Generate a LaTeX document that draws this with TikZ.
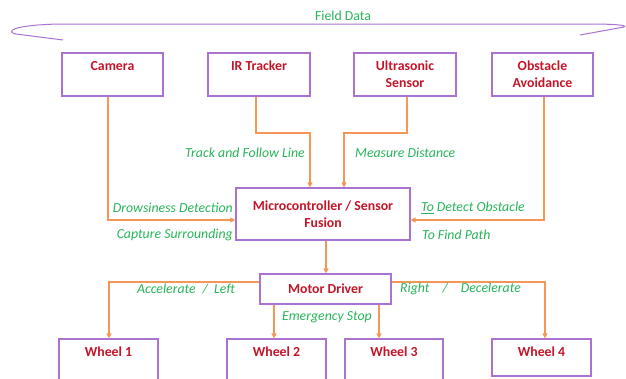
\documentclass[tikz,border=0pt]{standalone}
\usepackage{fontspec}
\setmainfont{Carlito}
\usetikzlibrary{arrows.meta,calc}
\definecolor{boxpurple}{RGB}{170,115,210}
\definecolor{txtred}{RGB}{196,20,40}
\definecolor{lblgreen}{RGB}{40,180,90}
\definecolor{lineorange}{RGB}{244,150,85}
\tikzset{
  blk/.style={draw=boxpurple,line width=1.2pt,inner sep=0pt,align=center,
    text=txtred,font=\fontsize{13.8}{17}\selectfont\bfseries},
  conn/.style={draw=lineorange,line width=1.1pt,
    -{Triangle[length=5pt,width=5pt]}},
  lbl/.style={text=lblgreen,font=\fontsize{13.8}{15}\selectfont\itshape,inner sep=0pt},
}
\begin{document}
\begin{tikzpicture}[x=1pt,y=-1pt]
\useasboundingbox (0,0) rectangle (626,378);
% field data brace
\draw[boxpurple,line width=1pt] (63,40) -- (16,34)
  .. controls (6,32) and (10,25) .. (60,24) -- (590,24)
  .. controls (612,24) and (628,25) .. (624,27) -- (580,35);
\node[lbl,font=\fontsize{13.8}{15}\selectfont] (fd) at (343,16) {Field Data};
% top boxes
\node[blk,minimum width=101pt,minimum height=43pt] (cam) at (112.5,74.5) {Camera\\\mbox{}};
\node[blk,minimum width=102pt,minimum height=43pt] (ir) at (259,74.5) {IR Tracker\\\mbox{}};
\node[blk,minimum width=102pt,minimum height=43pt] (us) at (405,74.5) {Ultrasonic\\Sensor};
\node[blk,minimum width=101pt,minimum height=43pt] (obs) at (542.5,74.5) {Obstacle\\Avoidance};
% controller
\node[blk,minimum width=174pt,minimum height=52pt] (mcu) at (323,214) {Microcontroller / Sensor\\Fusion};
\node[blk,minimum width=131pt,minimum height=30pt] (md) at (325.5,289) {Motor Driver};
% wheels
\node[blk,minimum width=99pt,minimum height=42pt] (w1) at (108.5,360) {Wheel 1\\\mbox{}};
\node[blk,minimum width=99pt,minimum height=42pt] (w2) at (276.5,360) {Wheel 2\\\mbox{}};
\node[blk,minimum width=98pt,minimum height=42pt] (w3) at (394,360) {Wheel 3\\\mbox{}};
\node[blk,minimum width=99pt,minimum height=37pt] (w4) at (541.5,357.5) {Wheel 4\\[-6pt]\mbox{}};
% bends
\coordinate (irb) at (310,133);
\coordinate (usb) at (344,133);
% connectors
\draw[conn] ([xshift=-4.5pt]cam.south) |- ([yshift=-6pt]mcu.west);
\draw[conn] ([xshift=-3pt]ir.south) |- (irb) -- ([xshift=-13pt]mcu.north);
\draw[conn] ([xshift=2pt]us.south) |- (usb) -- ([xshift=21pt]mcu.north);
\draw[conn] ([xshift=1.5pt]obs.south) |- ([yshift=-6pt]mcu.east);
\draw[conn] ([xshift=3pt]mcu.south) -- ([xshift=3pt]mcu.south |- md.north);
\draw[conn] ([yshift=7pt]md.west) -| ([xshift=0.5pt]w1.north);
\draw[conn] ([yshift=7pt]md.east) -| ([xshift=3.5pt]w4.north);
\draw[conn] ([xshift=-51.5pt]md.south) -- ([xshift=-51.5pt]md.south |- w2.north);
\draw[conn] ([xshift=53.5pt]md.south) -- ([xshift=53.5pt]md.south |- w3.north);
% labels
\node[lbl,anchor=east] (l1) at (305,153) {Track and Follow Line};
\node[lbl,anchor=west] (l2) at (355,153) {Measure Distance};
\node[lbl,anchor=east] (l3) at (233,208) {Drowsiness Detection};
\node[lbl,anchor=east] (l4) at (233,235) {Capture Surrounding};
\node[lbl,anchor=west] (l5) at (421,208) {\underline{To} Detect Obstacle};
\node[lbl,anchor=west] (l6) at (422,235) {To Find Path};
\node[lbl,anchor=west] (l7) at (137,289) {Accelerate\hspace{7pt}/\hspace{6pt}Left};
\node[lbl,anchor=west] (l8) at (400,289) {Right\hspace{13pt}/\hspace{13pt}Decelerate};
\node[lbl,anchor=west] (l9) at (282,317) {Emergency Stop};
\end{tikzpicture}
\end{document}
